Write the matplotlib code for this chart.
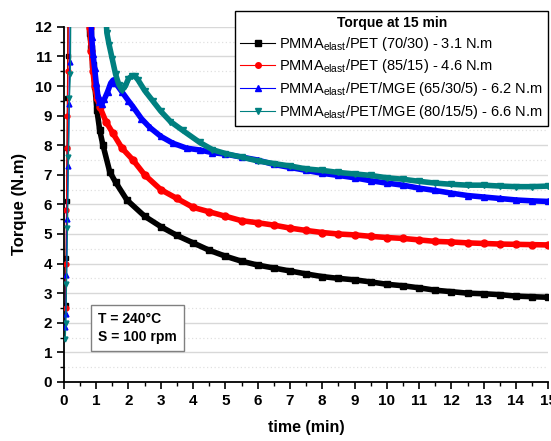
import matplotlib
matplotlib.use("Agg")
import matplotlib.pyplot as plt
from matplotlib.ticker import MultipleLocator

plt.rcParams['font.family'] = ['Liberation Sans', 'DejaVu Sans']
plt.rcParams['mathtext.fontset'] = 'custom'
plt.rcParams['mathtext.rm'] = 'Liberation Sans'
plt.rcParams['mathtext.it'] = 'Liberation Sans:italic'
plt.rcParams['mathtext.bf'] = 'Liberation Sans:bold'

# --- data (time in min, torque in N.m) ---
# loading stage (fast rise)
black_rise_t = [0.05, 0.07, 0.09, 0.10, 0.11, 0.12, 0.13, 0.15]
black_rise_T = [2.6, 4.2, 6.1, 7.9, 9.6, 11.0, 12.5, 14.0]
red_rise_t = [0.05, 0.07, 0.08, 0.10, 0.11, 0.12, 0.13, 0.15]
red_rise_T = [2.5, 4.0, 5.8, 7.9, 9.0, 10.5, 12.5, 14.0]
blue_rise_t = [0.04, 0.06, 0.08, 0.10, 0.13, 0.16, 0.18, 0.19, 0.21]
blue_rise_T = [1.85, 2.3, 3.6, 5.5, 7.3, 9.4, 10.8, 12.2, 14.0]
teal_rise_t = [0.04, 0.06, 0.08, 0.11, 0.14, 0.17, 0.20, 0.21, 0.23]
teal_rise_T = [1.45, 2.0, 3.3, 5.2, 7.6, 9.6, 10.4, 12.2, 14.0]

# mixing stage (decay)
black_t = [0.78, 0.80, 0.85, 0.90, 0.96, 1.02, 1.11, 1.21, 1.42, 1.6, 1.95, 2.5,
           3.0, 3.5, 4.0, 4.5, 5.0, 5.5, 6.0, 6.5, 7.0, 7.5, 8.0, 8.5, 9.0,
           9.5, 10.0, 10.5, 11.0, 11.5, 12.0, 12.5, 13.0, 13.5, 14.0, 14.5, 15.0]
black_T = [12.4, 11.8, 11.3, 10.7, 10.0, 9.2, 8.5, 8.0, 7.1, 6.75, 6.15, 5.6,
           5.25, 4.95, 4.7, 4.45, 4.25, 4.08, 3.95, 3.85, 3.75, 3.65, 3.56, 3.5,
           3.45, 3.38, 3.3, 3.25, 3.18, 3.1, 3.05, 3.0, 2.98, 2.95, 2.9, 2.88, 2.86]
red_t = [0.77, 0.80, 0.85, 0.90, 0.95, 1.02, 1.11, 1.3, 1.52, 1.8, 2.14, 2.5,
         3.0, 3.5, 4.0, 4.5, 5.0, 5.5, 6.0, 6.5, 7.0, 7.5, 8.0, 8.5, 9.0,
         9.5, 10.0, 10.5, 11.0, 11.5, 12.0, 12.5, 13.0, 13.5, 14.0, 14.5, 15.0]
red_T = [12.4, 11.95, 11.2, 10.5, 10.0, 9.6, 9.3, 8.8, 8.4, 7.9, 7.5, 7.0,
         6.5, 6.2, 5.9, 5.75, 5.6, 5.45, 5.38, 5.3, 5.2, 5.12, 5.05, 5.0, 4.97,
         4.92, 4.88, 4.85, 4.8, 4.75, 4.73, 4.7, 4.68, 4.66, 4.65, 4.64, 4.63]
blue_t = [0.84, 0.86, 0.90, 0.95, 1.0, 1.05, 1.1, 1.17, 1.25, 1.35, 1.45, 1.52,
          1.6, 1.8, 2.0, 2.14, 2.4, 2.66, 3.0, 3.37, 3.8, 4.2, 4.6, 5.0, 5.5,
          6.0, 6.5, 7.0, 7.5, 8.0, 8.5, 9.0, 9.5, 10.0, 10.5, 11.0, 11.5, 12.0,
          12.5, 13.0, 13.5, 14.0, 14.5, 15.0]
blue_T = [12.3, 11.65, 11.1, 10.6, 10.1, 9.7, 9.45, 9.4, 9.55, 9.8, 10.1, 10.2,
          10.1, 9.8, 9.5, 9.3, 8.9, 8.6, 8.3, 8.07, 7.9, 7.84, 7.75, 7.7, 7.6,
          7.5, 7.35, 7.25, 7.15, 7.05, 6.98, 6.9, 6.8, 6.72, 6.65, 6.55, 6.47, 6.38,
          6.3, 6.25, 6.2, 6.15, 6.12, 6.1]
teal_t = [1.30, 1.33, 1.4, 1.5, 1.6, 1.7, 1.8, 1.9, 2.0, 2.1, 2.2, 2.3, 2.5,
          2.75, 3.0, 3.3, 3.68, 4.2, 4.6, 5.0, 5.5, 6.0, 6.5, 7.0, 7.5, 8.0,
          8.5, 9.0, 9.5, 10.0, 10.5, 11.0, 11.5, 12.0, 12.5, 13.0, 13.5, 14.0,
          14.5, 15.0]
teal_T = [12.4, 11.8, 11.4, 10.9, 10.4, 10.05, 9.86, 10.0, 10.25, 10.34, 10.34, 10.2, 9.85,
          9.5, 9.15, 8.8, 8.5, 8.1, 7.85, 7.72, 7.6, 7.47, 7.38, 7.3, 7.2, 7.15,
          7.08, 7.03, 6.98, 6.9, 6.85, 6.78, 6.72, 6.68, 6.65, 6.65, 6.62, 6.6,
          6.6, 6.62]

labels = [r'PMMA$_{\mathrm{elast}}$/PET (70/30) - 3.1 N.m',
          r'PMMA$_{\mathrm{elast}}$/PET (85/15) - 4.6 N.m',
          r'PMMA$_{\mathrm{elast}}$/PET/MGE (65/30/5) - 6.2 N.m',
          r'PMMA$_{\mathrm{elast}}$/PET/MGE (80/15/5) - 6.6 N.m']
colors = ['black', '#ff0000', '#0000ff', '#008080']
markers = ['s', 'o', '^', 'v']

series = [(black_rise_t, black_rise_T, black_t, black_T),
          (red_rise_t, red_rise_T, red_t, red_T),
          (blue_rise_t, blue_rise_T, blue_t, blue_T),
          (teal_rise_t, teal_rise_T, teal_t, teal_T)]

fig = plt.figure(figsize=(5.51, 4.41), dpi=100)
ax = fig.add_axes([0.116, 0.134, 0.879, 0.805])

for (rt, rT, dt, dT), c, m, lab in zip(series, colors, markers, labels):
    # thin line for the loading peak
    ax.plot(rt, rT, color=c, lw=0.9, marker=m, ms=3.5, mec=c, zorder=3)
    # dense marker band for the mixing stage
    ax.plot(dt, dT, color=c, lw=4.0, marker=m, ms=5, mec=c, zorder=3)
    ax.plot([], [], color=c, lw=0.8, marker=m, ms=4, label=lab)

ax.set_xlim(0, 15)
ax.set_ylim(0, 12)
ax.xaxis.set_major_locator(MultipleLocator(1))
ax.xaxis.set_minor_locator(MultipleLocator(0.5))
ax.yaxis.set_major_locator(MultipleLocator(1))
ax.yaxis.set_minor_locator(MultipleLocator(0.5))
ax.tick_params(which='major', direction='out', length=5, width=1.2,
               labelsize=11)
ax.tick_params(which='minor', direction='out', length=3, width=1.0)
for lbl in ax.get_xticklabels() + ax.get_yticklabels():
    lbl.set_fontweight('bold')
ax.spines['top'].set_visible(False)
ax.spines['right'].set_visible(False)
ax.spines['left'].set_linewidth(1.3)
ax.spines['bottom'].set_linewidth(1.3)

ax.grid(axis='y', which='major', color='#d8d8d8', lw=1.0, zorder=0)
ax.grid(axis='y', which='minor', color='#e0e0e0', lw=0.9, ls=(0, (1, 2)), zorder=0)
ax.set_axisbelow(True)

ax.set_xlabel('time (min)', fontsize=11.5, fontweight='bold', labelpad=9)
ax.set_ylabel('Torque (N.m)', fontsize=12, fontweight='bold', labelpad=6)

ax.text(1.05, 1.28, 'T = 240°C\nS = 100 rpm', fontsize=10, fontweight='bold',
        linespacing=1.35, va='bottom', ha='left',
        bbox=dict(boxstyle='square,pad=0.5', fc='white', ec='#808080', lw=1.0))

leg = ax.legend(loc='upper left', bbox_to_anchor=(0.4265, 0.975),
                bbox_transform=fig.transFigure, borderaxespad=0,
                fontsize=10.5,
                title='Torque at 15 min',
                title_fontproperties={'weight': 'bold', 'size': 10},
                frameon=True, fancybox=False, edgecolor='black',
                framealpha=1, handlelength=2.4, labelspacing=0.32,
                borderpad=0.35, handletextpad=0.3)
leg.get_frame().set_linewidth(1.0)

fig.savefig('out.png', dpi=100)
